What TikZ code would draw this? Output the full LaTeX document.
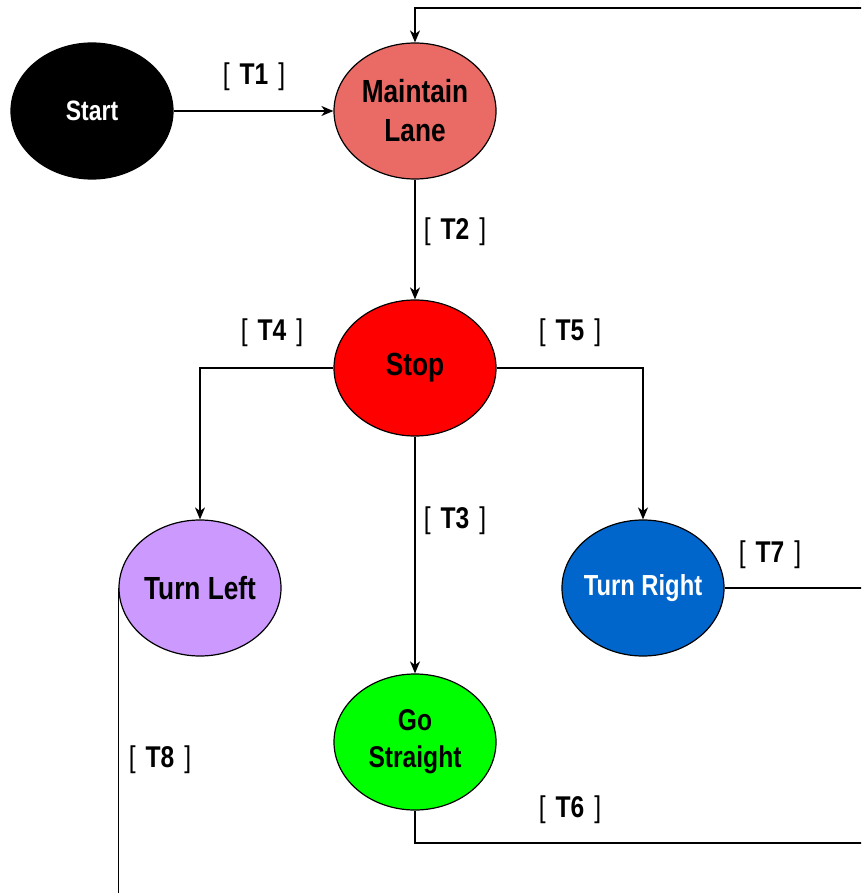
\documentclass[tikz,border=0pt]{standalone}
\usepackage{fontspec}
\setmainfont{Liberation Sans}[FakeStretch=0.82]
\usepackage{tikz}
\usetikzlibrary{arrows.meta,shapes.geometric,calc}
\definecolor{laneRed}{HTML}{EA6B66}
\definecolor{stopRed}{HTML}{FF0000}
\definecolor{leftViolet}{HTML}{CC99FF}
\definecolor{rightBlue}{HTML}{0066CC}
\definecolor{goGreen}{HTML}{00FF00}
\tikzset{
  state/.style={ellipse,draw,line width=0.6pt,inner ysep=0pt,inner xsep=-6pt,align=center,
    minimum width=81pt,minimum height=68pt,font=\fontsize{16}{19.5}\selectfont\bfseries},
  stflow/.style={-{Stealth[length=6pt,width=5pt,inset=1.8pt]},line width=0.7pt},
  stline/.style={line width=0.7pt},
  trlbl/.style={font=\fontsize{15}{17}\selectfont,inner sep=0pt},
}
\newcommand{\tr}[1]{[\,\,\textbf{#1}\,\,]}

\begin{document}
\begin{tikzpicture}[x=0.5pt,y=-0.5pt]
\useasboundingbox (0,0) rectangle (861,893);
\clip (0,0) rectangle (861,893);
% states
\node[state,fill=black,text=white,font=\fontsize{14}{16}\selectfont\bfseries] (start) at (92,111) {Start};
\node[state,fill=laneRed] (lane) at (415,111) {Maintain\\Lane};
\node[state,fill=stopRed] (stop) at (415,368) {Stop};
\node[state,fill=leftViolet] (left) at (200,588) {Turn Left};
\node[state,fill=rightBlue,text=white,font=\fontsize{14.5}{16}\selectfont\bfseries] (right) at (643,588) {Turn Right};
\node[state,fill=goGreen,font=\fontsize{15}{18.5}\selectfont\bfseries] (straight) at (415,742) {Go\\Straight};
% free ends outside the frame
\coordinate (backin) at (880,8);
\coordinate (outR) at (880,843);
\coordinate (outB) at (120,910);
% transitions
\draw[stflow] (start) -- (lane);
\draw[stflow] (lane) -- (stop);
\draw[stflow] (stop) -| (left);
\draw[stflow] (stop) -| (right);
\draw[stflow] (stop) -- (straight);
\draw[stflow] (backin) -| (lane);
\draw[stline] (right.east) -- (right.east -| outR);
\draw[stline] (straight.south) |- (outR);
\draw[stline] (left.west) -- (left.west |- outB);
% labels
\node[trlbl] (t1) at (254,77) {\tr{T1}};
\node[trlbl] (t2) at (455,232) {\tr{T2}};
\node[trlbl] (t3) at (455,521) {\tr{T3}};
\node[trlbl] (t4) at (272,333) {\tr{T4}};
\node[trlbl] (t5) at (570,333) {\tr{T5}};
\node[trlbl] (t6) at (570,810) {\tr{T6}};
\node[trlbl] (t7) at (770,555) {\tr{T7}};
\node[trlbl] (t8) at (160,760) {\tr{T8}};
\end{tikzpicture}
\end{document}
